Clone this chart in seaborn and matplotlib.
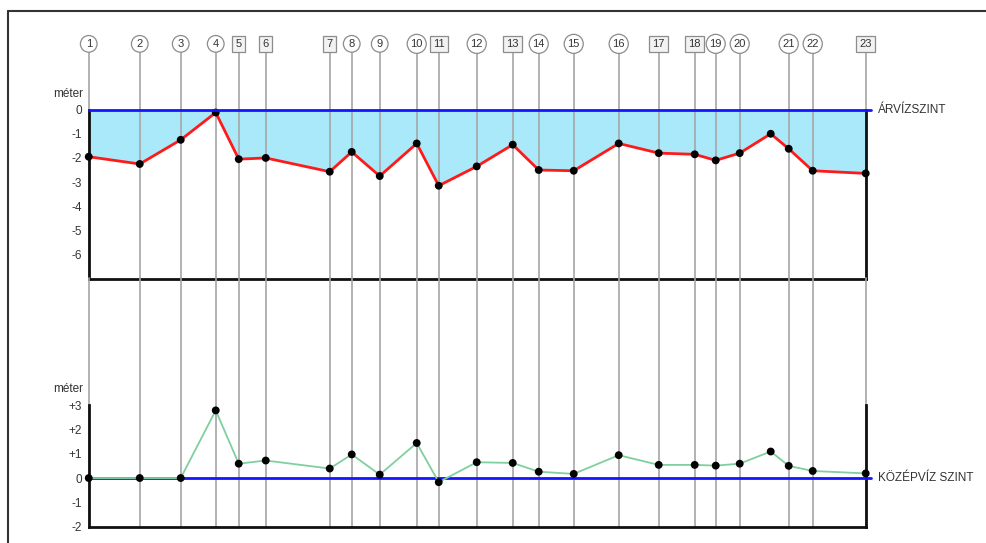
import pandas as pd
import numpy as np
import seaborn as sns
import matplotlib.pyplot as plt
from matplotlib.lines import Line2D
import matplotlib.transforms as mtransforms

sns.set_style('white')
plt.rcParams['font.family'] = ['Liberation Sans', 'DejaVu Sans']

# station positions along the river (relative distance) and their labels
station_pos = [0, 51, 92, 127, 150, 177, 241, 263, 291, 328, 350, 388,
               424, 450, 485, 530, 570, 606, 627, 651, 682, 700, 724, 777]
station_lbl = ['1', '2', '3', '4', '5', '6', '7', '8', '9', '10', '11', '12',
               '13', '14', '15', '16', '17', '18', '19', '20', '', '21', '22', '23']
station_shape = ['o', 'o', 'o', 'o', 's', 's', 's', 'o', 'o', 'o', 's', 'o',
                 's', 'o', 'o', 'o', 's', 's', 'o', 'o', '', 'o', 'o', 's']

# level below flood level (árvízszint), meters
flood_diff = [-1.95, -2.25, -1.25, -0.12, -2.05, -2.0, -2.57, -1.75, -2.75, -1.4, -3.15, -2.35,
              -1.45, -2.5, -2.53, -1.4, -1.8, -1.85, -2.1, -1.8, -1.0, -1.62, -2.53, -2.64]
# level above mean water level (középvíz), meters
mean_diff = [0.0, 0.0, 0.0, 2.78, 0.59, 0.72, 0.39, 0.97, 0.14, 1.44, -0.17, 0.65,
             0.62, 0.26, 0.17, 0.94, 0.54, 0.54, 0.51, 0.59, 1.09, 0.5, 0.29, 0.19]

top_ticks = [0, -1, -2, -3, -4, -5, -6]
top_ticklabels = ['0', '-1', '-2', '-3', '-4', '-5', '-6']
bot_ticks = [3, 2, 1, 0, -1, -2]
bot_ticklabels = ['+3', '+2', '+1', '0', '-1', '-2']

df = pd.DataFrame({'pos': station_pos, 'flood': flood_diff, 'mean': mean_diff})

fig = plt.figure(figsize=(9.86, 5.43), dpi=100)
ax1 = fig.add_axes([0.09, 0.4867, 0.788, 0.3114])
ax2 = fig.add_axes([0.09, 0.030, 0.788, 0.2241])

xmin, xmax = station_pos[0], station_pos[-1]
txtcol = '#333333'
gridcol = '#a6a6a6'

# ---- top panel: flood level
ax1.fill_between(df['pos'], df['flood'], 0, color='#aae9fa', lw=0, zorder=1)
sns.lineplot(data=df, x='pos', y='flood', sort=False, color='#ff1a1a', lw=2,
             ax=ax1, zorder=4)
sns.scatterplot(data=df, x='pos', y='flood', color='black', s=32, ax=ax1,
                zorder=5, clip_on=False, edgecolor='none')
ax1.plot([xmin, xmax + 5], [0, 0], color='#1414ff', lw=2, zorder=6, clip_on=False)
ax1.set_xlim(xmin, xmax)
ax1.set_ylim(-7, 0)

# ---- bottom panel: mean water level
sns.lineplot(data=df, x='pos', y='mean', sort=False, color='#7fcf9f', lw=1.3,
             ax=ax2, zorder=4)
sns.scatterplot(data=df, x='pos', y='mean', color='black', s=32, ax=ax2,
                zorder=5, clip_on=False, edgecolor='none')
ax2.plot([xmin, xmax + 5], [0, 0], color='#1414ff', lw=2, zorder=3, clip_on=False)
ax2.set_xlim(xmin, xmax)
ax2.set_ylim(-2, 3)

for ax, ticks, labels in [(ax1, top_ticks, top_ticklabels), (ax2, bot_ticks, bot_ticklabels)]:
    ax.set_yticks(ticks)
    ax.set_yticklabels(labels, color=txtcol, fontsize=8.5)
    ax.set_xticks([])
    ax.set_xlabel('')
    ax.set_ylabel('')
    ax.tick_params(axis='y', length=0, pad=5)
    ax.spines['top'].set_visible(False)
    for s in ['left', 'right', 'bottom']:
        ax.spines[s].set_color('#111111')
        ax.spines[s].set_linewidth(2)
    ax.set_facecolor('none')
    ax.annotate('méter', xy=(0, 1.0), xycoords='axes fraction', xytext=(-4, 7),
                textcoords='offset points', ha='right', va='bottom',
                fontsize=8.5, color=txtcol)

ax1.text(xmax + 12, 0, 'ÁRVÍZSZINT', ha='left', va='center', fontsize=8.5, color=txtcol)
ax2.text(xmax + 12, 0, 'KÖZÉPVÍZ SZINT', ha='left', va='center', fontsize=8.5, color=txtcol)

# ---- station verticals and labels
tr1 = mtransforms.blended_transform_factory(ax1.transData, ax1.transAxes)
tr2 = mtransforms.blended_transform_factory(ax2.transData, ax2.transAxes)
for x, lbl, shp in zip(station_pos, station_lbl, station_shape):
    if not lbl:
        continue
    ax1.plot([x, x], [0, 1.389], transform=tr1, color=gridcol, lw=1.2, zorder=2, clip_on=False)
    ax2.plot([x, x], [0, 2.04], transform=tr2, color=gridcol, lw=1.2, zorder=2, clip_on=False)
    if shp == 'o':
        box = dict(boxstyle='circle,pad=0.3', fc='white', ec='#8c8c8c', lw=0.9)
    else:
        box = dict(boxstyle='square,pad=0.3', fc='#f2f2f2', ec='#8c8c8c', lw=0.9)
    ax1.text(x, 1.389, lbl, transform=tr1, ha='center', va='center', fontsize=8,
             color=txtcol, bbox=box, zorder=10, clip_on=False)

# outer frame (top and left edges)
fig.add_artist(Line2D([0.0081, 1.0], [0.9797, 0.9797], color='#333333', lw=1.5))
fig.add_artist(Line2D([0.0081, 0.0081], [0.0, 0.9797], color='#333333', lw=1.5))

fig.savefig('out.png', dpi=100)
